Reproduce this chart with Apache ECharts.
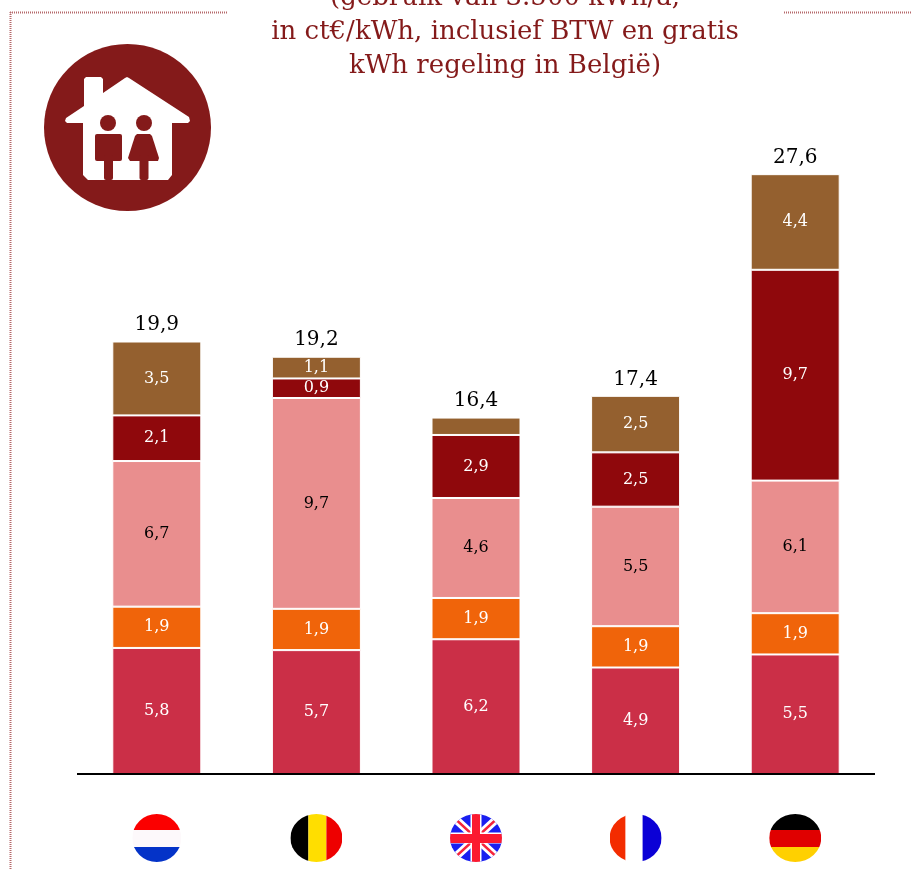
<!DOCTYPE html>
<html><head><meta charset="utf-8">
<style>html,body{margin:0;padding:0;background:#fff}#c{width:911px;height:869px}</style>
<script src="https://cdn.jsdelivr.net/npm/echarts@6/dist/echarts.min.js"></script>
</head><body><div id="c"></div>
<script>
const countries = ['Nederland','België','Verenigd Koninkrijk','Frankrijk','Duitsland'];
const totals = [19.9,19.2,16.4,17.4,27.6];
const seg1 = [5.8,5.7,6.2,4.9,5.5];
const seg2 = [1.9,1.9,1.9,1.9,1.9];
const seg3 = [6.7,9.7,4.6,5.5,6.1];
const seg4 = [2.1,0.9,2.9,2.5,9.7];
const seg5 = [3.4,1.0,0.8,2.6,4.4];
const seg5Labels = ['3,5','1,1','','2,5','4,4'];
const titleLines = ['(gebruik van 3.500 kWh/a,','in ct€/kWh, inclusief BTW en gratis','kWh regeling in België)'];
const FONT = 'DejaVu Serif';
const MAROON = '#841a1a';

function flag(body,w){
  w = w||52;
  const svg = `<svg xmlns="http://www.w3.org/2000/svg" width="${w}" height="48" viewBox="0 0 ${w} 48"><defs><clipPath id="k"><ellipse cx="${w/2}" cy="24" rx="${w/2}" ry="24"/></clipPath></defs><g clip-path="url(#k)">${body}</g></svg>`;
  return 'data:image/svg+xml;charset=utf-8,' + encodeURIComponent(svg);
}
const r = (x,y,w,h,f)=>`<rect x="${x}" y="${y}" width="${w}" height="${h}" fill="${f}"/>`;
const flags = {
  f0: {w:49,img:flag(r(0,0,49,16,'#fb0000')+r(0,16,49,17,'#fdf9fb')+r(0,33,49,15,'#0433c8'),49)},
  f1: {w:52,img:flag(r(0,0,18,48,'#000')+r(18,0,18,48,'#ffde00')+r(36,0,16,48,'#ee0000'))},
  f2: {w:52,img:flag(r(0,0,52,48,'#1a1ff0')
     +'<path d="M0 0L52 48M52 0L0 48" stroke="#fff" stroke-width="8"/>'
     +'<path d="M0 0L52 48M52 0L0 48" stroke="#f5243c" stroke-width="2.5"/>'
     +r(20.5,0,11,48,'#fff')+r(0,18.5,52,11,'#fff')
     +r(22,0,8,48,'#fb1a30')+r(0,20,52,9,'#fb1a30'))},
  f3: {w:52,img:flag(r(0,0,16,48,'#f32c00')+r(16,0,17,48,'#fff')+r(33,0,19,48,'#0b00d6'))},
  f4: {w:52,img:flag(r(0,0,52,16,'#000')+r(0,16,52,17,'#e00000')+r(0,33,52,15,'#ffd000'))}
};
const richFlags = {};
Object.keys(flags).forEach(k=>{richFlags[k]={width:flags[k].w,height:48,backgroundColor:{image:flags[k].img}}});

const fmt = v => v.toFixed(1).replace('.',',');
const mk = (name,data,color,labelColor,labels)=>({
  name,type:'bar',stack:'t',barWidth:89,data,
  itemStyle:{color,borderColor:'#fff',borderWidth:1},
  label:{show:true,position:'inside',color:labelColor,fontFamily:FONT,fontSize:16,
    formatter:p=>labels?labels[p.dataIndex]:fmt(p.value)},
  silent:true
});
const topSum = countries.map((_,i)=>seg1[i]+seg2[i]+seg3[i]+seg4[i]+seg5[i]);

const chart = echarts.init(document.getElementById('c'),null,{renderer:'canvas'});
const DOT = {stroke:'#b5696b',lineWidth:2,lineDash:[1,1]};
chart.setOption({
  animation:false,backgroundColor:'#fff',
  title:{text:titleLines.join('\n'),left:500,top:-24,textAlign:'center',
    textStyle:{color:MAROON,fontFamily:FONT,fontSize:26,fontWeight:'normal',lineHeight:34}},
  grid:{left:77,right:36,top:122,bottom:95},
  xAxis:{type:'category',data:countries,z:5,
    axisLine:{lineStyle:{color:'#000',width:2,cap:'butt'}},axisTick:{show:false},
    axisLabel:{interval:0,margin:40,formatter:(v,i)=>`{f${i}|}`,rich:richFlags}},
  yAxis:{type:'value',min:0,max:30,show:false,splitLine:{show:false}},
  series:[
    mk('Component 1',seg1,'#cb2f47','#fff'),
    mk('Component 2',seg2,'#f0640a','#fff'),
    mk('Component 3',seg3,'#e98e8e','#000'),
    mk('Component 4',seg4,'#8f080c','#fff'),
    mk('Component 5',seg5,'#94602f','#fff',seg5Labels),
    {name:'Totaal',type:'line',data:topSum,symbol:'circle',symbolSize:1,
     itemStyle:{color:'rgba(0,0,0,0)'},lineStyle:{width:0,color:'rgba(0,0,0,0)'},silent:true,z:5,
     label:{show:true,position:'top',distance:6,color:'#000',fontFamily:FONT,fontSize:20,
       formatter:p=>fmt(totals[p.dataIndex])}}
  ],
  graphic:[
    {type:'line',silent:true,shape:{x1:10.5,y1:12,x2:10.5,y2:869},style:DOT},
    {type:'line',silent:true,shape:{x1:10,y1:12.5,x2:227,y2:12.5},style:DOT},
    {type:'line',silent:true,shape:{x1:784,y1:12.5,x2:911,y2:12.5},style:DOT},
    {type:'circle',silent:true,shape:{cx:127.5,cy:127.5,r:83.5},style:{fill:MAROON}},
    {type:'polygon',silent:true,shape:{points:[[84,79],[86,77],[101,77],[103,79],[103,93],[125,78],[127,77],[129,78],[189,117],[190,121],[188,123],[172,123],[172,175],[168,180],[88,180],[83,175],[83,123],[67,123],[65,121],[66,118],[84,106]]},style:{fill:'#fff'}},
    {type:'circle',silent:true,shape:{cx:108,cy:123,r:8},style:{fill:MAROON}},
    {type:'circle',silent:true,shape:{cx:144,cy:123,r:8},style:{fill:MAROON}},
    {type:'rect',silent:true,shape:{x:95,y:134,width:27,height:27,r:2},style:{fill:MAROON}},
    {type:'rect',silent:true,shape:{x:104,y:155,width:9,height:25,r:2},style:{fill:MAROON}},
    {type:'polygon',silent:true,shape:{points:[[137,134],[150,134],[152,136],[159,158],[158,161],[130,161],[128,158],[135,136]]},style:{fill:MAROON}},
    {type:'rect',silent:true,shape:{x:139.5,y:155,width:9,height:25,r:2},style:{fill:MAROON}}
  ]
});
</script></body></html>
